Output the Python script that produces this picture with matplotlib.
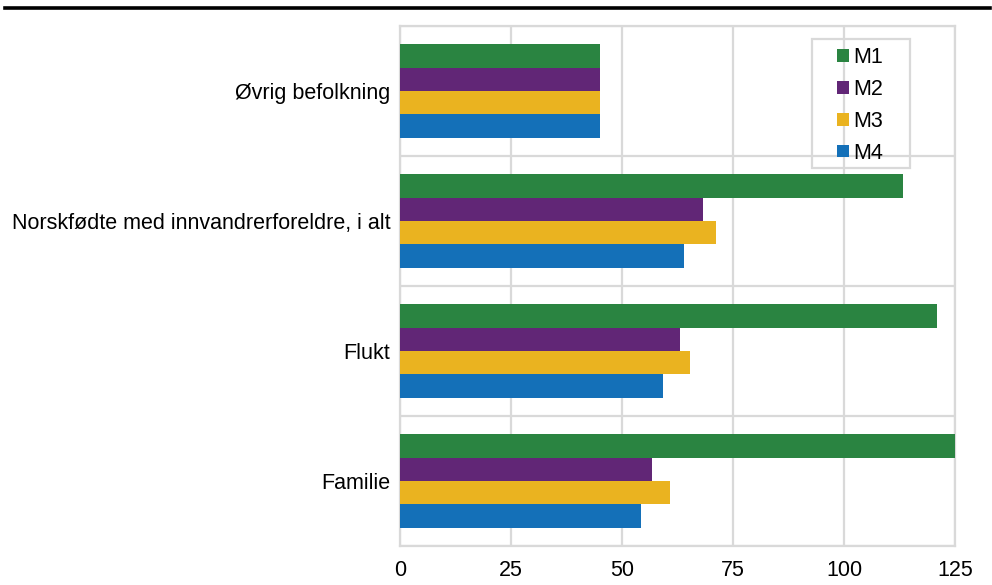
import numpy as np
import matplotlib
matplotlib.use("Agg")
import matplotlib.pyplot as plt
from matplotlib.patches import Patch, Rectangle
from matplotlib.lines import Line2D

plt.rcParams['font.family'] = ['Liberation Sans', 'DejaVu Sans']

categories = ["Familie", "Flukt", "Norskfødte med innvandrerforeldre, i alt", "Øvrig befolkning"]
series = ["M1", "M2", "M3", "M4"]
m1 = [125.0, 120.9, 113.3, 45.0]
m2 = [56.8, 63.1, 68.2, 45.0]
m3 = [60.8, 65.3, 71.2, 45.0]
m4 = [54.3, 59.2, 64.0, 45.0]
values = [m1, m2, m3, m4]
colors = ["#2a8441", "#612676", "#eab320", "#1470b8"]
xticks = [0, 25, 50, 75, 100, 125]

fig = plt.figure(figsize=(9.92, 5.85), dpi=100)
ax = fig.add_axes([400/992, 1-546/585, 555/992, 520/585])

y = np.arange(len(categories))
h = 0.18
offs = [1.5*h, 0.5*h, -0.5*h, -1.5*h]
for vals, c, o, name in zip(values, colors, offs, series):
    ax.barh(y + o, vals, height=h, color=c, label=name, zorder=3)

grid = "#d9d9d9"
ax.set_xlim(0, 125)
ax.set_ylim(-0.5, len(categories) - 0.5)
ax.set_xticks(xticks)
ax.set_yticks(y)
ax.set_yticklabels(categories)
ax.set_yticks(np.arange(-0.5, len(categories)), minor=True)
ax.tick_params(axis='both', which='both', length=0, labelsize=15.5, colors='black')
ax.tick_params(axis='x', pad=10)
ax.tick_params(axis='y', pad=7)
ax.grid(axis='x', which='major', color=grid, lw=1.6, zorder=0)
ax.grid(axis='y', which='minor', color=grid, lw=1.6, zorder=0)
for s in ax.spines.values():
    s.set_color(grid)
    s.set_linewidth(1.6)

# legend: entries without frame, box drawn separately (wider side padding)
handles = [Patch(facecolor=c, label=n) for c, n in zip(colors, series)]
leg = ax.legend(handles=handles, loc='upper left', bbox_to_anchor=(0.787, 0.959),
                borderaxespad=0, fontsize=15.5, handlelength=0.55, handleheight=0.55,
                handletextpad=0.2, labelspacing=0.5, frameon=False, borderpad=0)
leg.set_zorder(5)
ax.add_patch(Rectangle((0.742, 0.727), 0.1766, 0.248, transform=ax.transAxes,
                       facecolor='none', edgecolor=grid, lw=1.6, zorder=5, clip_on=False))

fig.add_artist(Line2D([0.005, 0.998], [1-7.5/585]*2, color='black', lw=2.6))

fig.savefig("out.png", dpi=100)
